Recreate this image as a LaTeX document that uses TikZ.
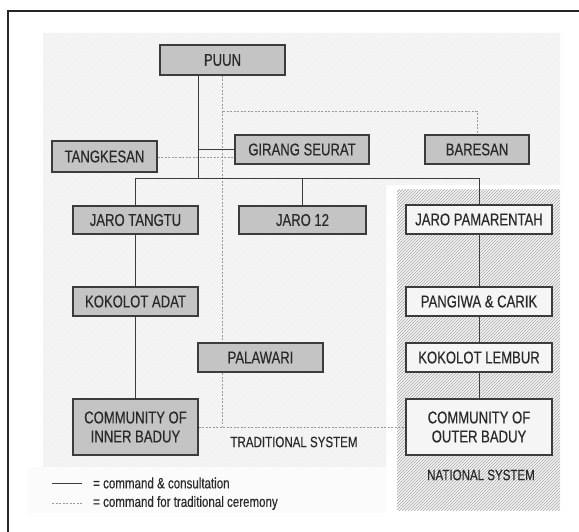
\documentclass[tikz,border=0pt]{standalone}
\usepackage{fontspec}
\setmainfont{Liberation Sans}[FakeStretch=0.77, FakeBold=0.4]
\usetikzlibrary{patterns}
\definecolor{boxfill}{HTML}{C4C4C4}
\definecolor{boxline}{HTML}{3C3C3C}
\definecolor{natfill}{HTML}{F5F5F5}
\definecolor{tradbg}{HTML}{F7F7F7}
\definecolor{tradhatch}{HTML}{EDEDED}
\definecolor{nathatch}{HTML}{A8A8A8}
\definecolor{txt}{HTML}{2A2A2A}
\definecolor{dashc}{HTML}{9A9A9A}
\definecolor{legbg}{HTML}{FBFBFB}
\pgfdeclarelayer{bg}
\pgfdeclarelayer{lines}
\pgfsetlayers{bg,lines,main}
\tikzset{
  tradbox/.style={draw=boxline, line width=1.2pt, fill=boxfill, text=txt, font=\fontsize{17}{19}\selectfont, inner sep=0pt, align=center},
  natbox/.style={tradbox, fill=natfill},
  solidc/.style={draw=boxline, line width=1pt},
  dashedc/.style={draw=dashc, line width=1pt, dash pattern=on 2pt off 1.5pt},
  lbl/.style={text=txt, font=\fontsize{15}{17}\selectfont, inner sep=0pt},
}
\begin{document}
\begin{tikzpicture}[x=1pt,y=-1pt]
\useasboundingbox (0,0) rectangle (579,532);
% nodes
\node[tradbox, minimum width=125, minimum height=30] (puun) at (222.5,60) {PUUN};
\node[tradbox, minimum width=105, minimum height=31] (tang) at (104.5,156.5) {TANGKESAN};
\node[tradbox, minimum width=134, minimum height=29] (girang) at (302,149.5) {GIRANG SEURAT};
\node[tradbox, minimum width=104, minimum height=29] (baresan) at (477,149.5) {BARESAN};
\node[tradbox, minimum width=125, minimum height=28] (jt) at (135.5,220) {JARO TANGTU};
\node[tradbox, minimum width=127, minimum height=28] (j12) at (302.5,220) {JARO 12};
\node[tradbox, minimum width=125, minimum height=29] (ka) at (135.5,301.5) {KOKOLOT ADAT};
\node[tradbox, minimum width=125, minimum height=29] (pal) at (260.5,357.5) {PALAWARI};
\node[tradbox, minimum width=125, minimum height=56] (inner) at (135.5,427) {COMMUNITY OF\\INNER BADUY};
\node[natbox, minimum width=146, minimum height=29] (jp) at (479,219.5) {JARO PAMARENTAH};
\node[natbox, minimum width=146, minimum height=29] (pc) at (479,301.5) {PANGIWA \& CARIK};
\node[natbox, minimum width=146, minimum height=29] (kl) at (479,357.5) {KOKOLOT LEMBUR};
\node[natbox, minimum width=146, minimum height=56] (outer) at (479,427) {COMMUNITY OF\\OUTER BADUY};
\node[lbl] (trad) at (294,442) {TRADITIONAL SYSTEM};
\node[lbl] (nat) at (481,475) {NATIONAL SYSTEM};
\node[lbl, anchor=west] (leg1) at (93,483) {= command \& consultation};
\node[lbl, anchor=west] (leg2) at (93,503) {= command for traditional ceremony};
\coordinate (spine) at (198,179);
\coordinate (dspine) at (223,112);
\coordinate (l1a) at (52,483);
\coordinate (l2a) at (52,503);
% backgrounds
\begin{pgfonlayer}{bg}
  \fill[white] (0,0) rectangle (579,532);
  \fill[tradbg] (43,33) -- (560,33) -- (560,185) -- (386,185) -- (386,467) -- (43,467) -- cycle;
  \fill[pattern=north east lines, pattern color=tradhatch] (43,33) -- (560,33) -- (560,185) -- (386,185) -- (386,467) -- (43,467) -- cycle;
  \fill[legbg] (28,467) rectangle (386,513);
  \fill[natfill] (397,190) rectangle (560,510);
  \fill[pattern=north east lines, pattern color=nathatch] (397,190) rectangle (560,510);
  \draw[line width=2pt, draw=black!85] (7.5,532) -- (7.5,11) -- (579,11);
\end{pgfonlayer}
% connectors
\begin{pgfonlayer}{lines}
  \draw[dashedc] (puun.south) -- (puun.south |- inner.east);
  \draw[dashedc] (dspine) -- (dspine -| baresan.north) -- (baresan.north);
  \draw[dashedc] (tang.east |- 0,158) -- (girang.west |- 0,158);
  \draw[dashedc] (inner.east) -- (outer.west);
  \draw[solidc] (puun.south -| spine) -- (spine);
  \draw[solidc] (girang.west -| spine) -- (girang.west);
  \draw[solidc] (jt.north) -- (jt.north |- spine) -- (jp.north |- spine) -- (jp.north);
  \draw[solidc] (j12.north |- spine) -- (j12.north);
  \draw[solidc] (jt.south) -- (ka.north);
  \draw[solidc] (ka.south) -- (inner.north);
  \draw[solidc] (jp.south) -- (pc.north);
  \draw[solidc] (pc.south) -- (kl.north);
  \draw[solidc] (kl.south) -- (outer.north);
  \draw[solidc, line width=0.8pt] (l1a) -- ++(30,0);
  \draw[dashedc, line width=0.8pt] (l2a) -- ++(30,0);
\end{pgfonlayer}
\end{tikzpicture}
\end{document}
